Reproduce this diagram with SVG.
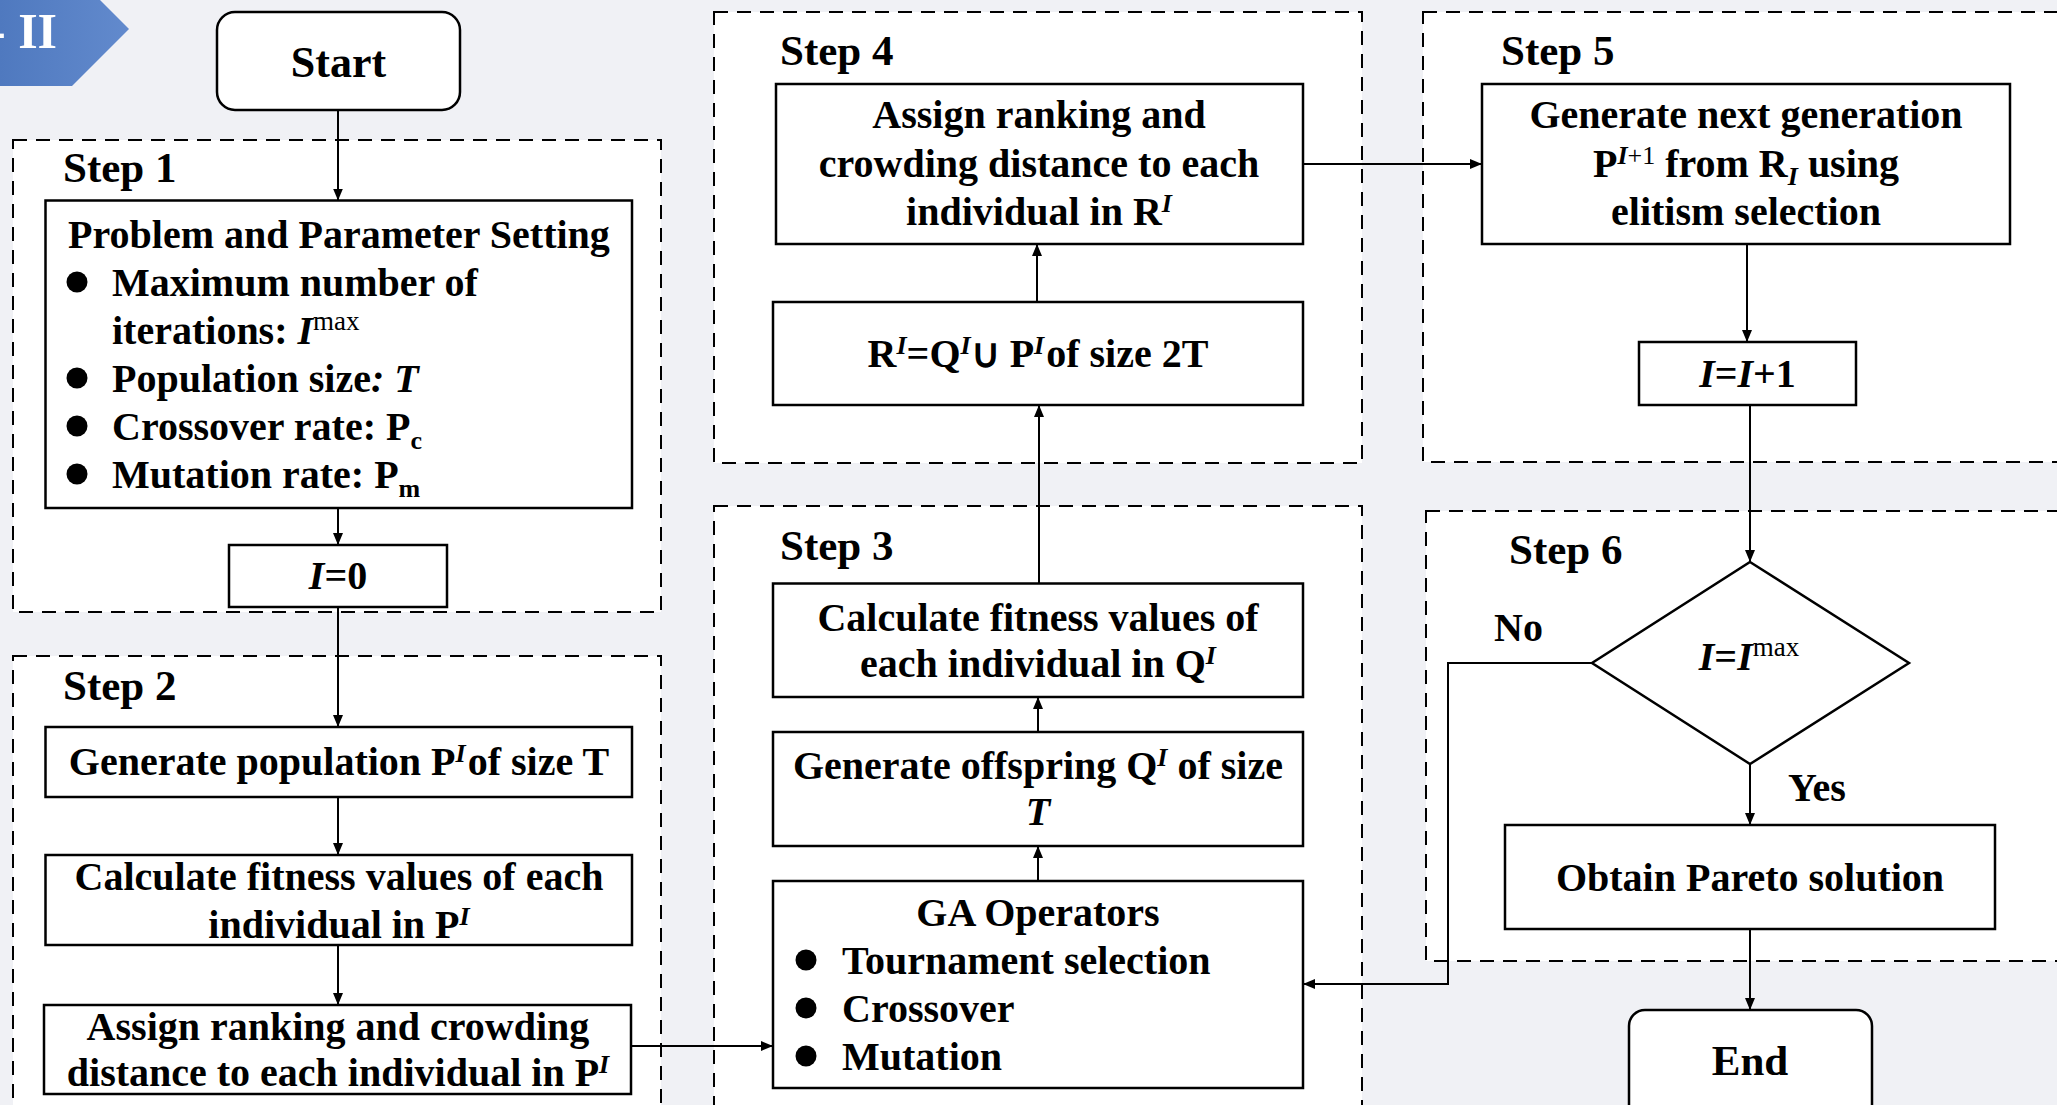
<svg xmlns="http://www.w3.org/2000/svg" width="2057" height="1105" viewBox="0 0 2057 1105">
<style>
.t{font-family:"Liberation Serif","Times New Roman",serif;font-weight:bold;font-size:40px;fill:#000}
.c{text-anchor:middle}
.st{font-size:43px}
.i{font-style:italic}
.sup{font-size:26px;font-style:italic}
.sub{font-size:26px}
.mx{font-size:27px;font-weight:normal}
.box{fill:#fff;stroke:#000;stroke-width:2.5}
.dash{fill:#fff;stroke:#000;stroke-width:2;stroke-dasharray:14 9}
.ln{fill:none;stroke:#000;stroke-width:2}
</style>
<defs>
<linearGradient id="bg1" x1="0" y1="0" x2="1" y2="0">
<stop offset="0" stop-color="#4f79bf"/>
<stop offset="1" stop-color="#628acd"/>
</linearGradient>
<marker id="ah" markerWidth="12" markerHeight="10" refX="12" refY="5" orient="auto" markerUnits="userSpaceOnUse">
<path d="M0,0 L12,5 L0,10 z" fill="#000"/>
</marker>
</defs>
<rect x="0" y="0" width="2057" height="1105" fill="#f0f1f5"/>
<g id="banner">
<polygon points="0,-28 72,-28 129,29 72,86 0,86" fill="url(#bg1)"/>
<text class="t" x="-11" y="48" style="font-size:50px;fill:#fff">- II</text>
</g>
<g id="step-regions">
<rect class="dash" x="13" y="140" width="648" height="472"/>
<rect class="dash" x="13" y="656" width="648" height="470"/>
<rect class="dash" x="714" y="12" width="648" height="451"/>
<rect class="dash" x="714" y="506" width="648" height="620"/>
<rect class="dash" x="1423" y="12" width="660" height="450"/>
<rect class="dash" x="1426" y="511" width="660" height="450"/>
<text class="t st" x="63" y="182">Step 1</text>
<text class="t st" x="63" y="700">Step 2</text>
<text class="t st" x="780" y="560">Step 3</text>
<text class="t st" x="780" y="65">Step 4</text>
<text class="t st" x="1501" y="65">Step 5</text>
<text class="t st" x="1509" y="564">Step 6</text>
</g>
<g id="start">
<rect class="box" x="217" y="12" width="243" height="98" rx="18"/>
<text class="t c" x="338.5" y="77" style="font-size:44px">Start</text>
</g>
<g id="problem">
<rect class="box" x="45.5" y="200.5" width="586.5" height="307.5"/>
<text class="t c" x="339" y="248">Problem and Parameter Setting</text>
<circle cx="77" cy="282" r="10.5"/>
<text class="t" x="112" y="296">Maximum number of</text>
<text class="t" x="112" y="344">iterations: <tspan class="i">I</tspan><tspan class="mx" dy="-14">max</tspan></text>
<circle cx="77" cy="378" r="10.5"/>
<text class="t" x="112" y="392">Population size<tspan class="i">: T</tspan></text>
<circle cx="77" cy="426" r="10.5"/>
<text class="t" x="112" y="440">Crossover rate: P<tspan class="sub" dy="9">c</tspan></text>
<circle cx="77" cy="474" r="10.5"/>
<text class="t" x="112" y="488">Mutation rate: P<tspan class="sub" dy="9">m</tspan></text>
</g>
<g id="i0">
<rect class="box" x="229" y="545" width="218" height="62"/>
<text class="t c" x="338" y="589"><tspan class="i">I</tspan>=0</text>
</g>
<g id="genpop">
<rect class="box" x="45.5" y="727" width="586.5" height="70"/>
<text class="t c" x="339" y="775">Generate population P<tspan class="sup" dy="-13">I</tspan><tspan dx="2" dy="13">of size T</tspan></text>
</g>
<g id="calcP">
<rect class="box" x="45.5" y="855" width="586.5" height="90"/>
<text class="t c" x="339" y="890">Calculate fitness values of each</text>
<text class="t c" x="339" y="938">individual in P<tspan class="sup" dy="-13">I</tspan></text>
</g>
<g id="assignP">
<rect class="box" x="44" y="1005" width="587" height="89"/>
<text class="t c" x="338" y="1040">Assign ranking and crowding</text>
<text class="t c" x="338" y="1086">distance to each individual in P<tspan class="sup" dy="-13">I</tspan></text>
</g>
<g id="calcQ">
<rect class="box" x="773" y="583.5" width="530" height="113.5"/>
<text class="t c" x="1038" y="631">Calculate fitness values of</text>
<text class="t c" x="1038" y="677">each individual in Q<tspan class="sup" dy="-13">I</tspan></text>
</g>
<g id="offspring">
<rect class="box" x="773" y="732" width="530" height="114"/>
<text class="t c" x="1038" y="779">Generate offspring Q<tspan class="sup" dy="-13">I</tspan><tspan dy="13"> of size</tspan></text>
<text class="t c i" x="1038" y="825">T</text>
</g>
<g id="gaops">
<rect class="box" x="773" y="881" width="530" height="207"/>
<text class="t c" x="1038" y="926">GA Operators</text>
<circle cx="806" cy="960" r="10.5"/>
<text class="t" x="842" y="974">Tournament selection</text>
<circle cx="806" cy="1008" r="10.5"/>
<text class="t" x="842" y="1022">Crossover</text>
<circle cx="806" cy="1056" r="10.5"/>
<text class="t" x="842" y="1070">Mutation</text>
</g>
<g id="assignR">
<rect class="box" x="776" y="84" width="527" height="160"/>
<text class="t c" x="1039" y="128">Assign ranking and</text>
<text class="t c" x="1039" y="177">crowding distance to each</text>
<text class="t c" x="1039" y="225">individual in R<tspan class="sup" dy="-13">I</tspan></text>
</g>
<g id="union">
<rect class="box" x="773" y="302" width="530" height="103"/>
<text class="t c" x="1038" y="367">R<tspan class="sup" dy="-13">I</tspan><tspan dy="13">=Q</tspan><tspan class="sup" dy="-13">I</tspan><tspan dy="13">∪ P</tspan><tspan class="sup" dy="-13">I</tspan><tspan dx="2" dy="13">of size 2T</tspan></text>
</g>
<g id="nextgen">
<rect class="box" x="1482" y="84" width="528" height="160"/>
<text class="t c" x="1746" y="128">Generate next generation</text>
<text class="t c" x="1746" y="177">P<tspan class="sup" dy="-13">I</tspan><tspan class="sub" style="font-weight:normal">+1</tspan><tspan dy="13"> from R</tspan><tspan class="sup" dy="8">I</tspan><tspan dy="-8"> using</tspan></text>
<text class="t c" x="1746" y="225">elitism selection</text>
</g>
<g id="incr">
<rect class="box" x="1639" y="342" width="217" height="63"/>
<text class="t c" x="1747.5" y="387"><tspan class="i">I</tspan>=<tspan class="i">I</tspan>+1</text>
</g>
<g id="decision">
<polygon class="box" points="1750,562 1909,663 1750,764 1592,663"/>
<text class="t c" x="1749" y="670"><tspan class="i">I</tspan>=<tspan class="i">I</tspan><tspan class="mx" dy="-14">max</tspan></text>
</g>
<g id="pareto">
<rect class="box" x="1505" y="825" width="490" height="104"/>
<text class="t c" x="1750" y="891">Obtain Pareto solution</text>
</g>
<g id="end">
<rect class="box" x="1629" y="1010" width="243" height="120" rx="16"/>
<text class="t c" x="1750" y="1075" style="font-size:43px">End</text>
</g>
<g id="connectors">
<line class="ln" x1="338" y1="110" x2="338" y2="200.5" marker-end="url(#ah)"/>
<line class="ln" x1="338" y1="508" x2="338" y2="545" marker-end="url(#ah)"/>
<line class="ln" x1="338" y1="607" x2="338" y2="727" marker-end="url(#ah)"/>
<line class="ln" x1="338" y1="797" x2="338" y2="855" marker-end="url(#ah)"/>
<line class="ln" x1="338" y1="945" x2="338" y2="1005" marker-end="url(#ah)"/>
<line class="ln" x1="631" y1="1046" x2="773" y2="1046" marker-end="url(#ah)"/>
<line class="ln" x1="1038" y1="881" x2="1038" y2="846" marker-end="url(#ah)"/>
<line class="ln" x1="1038" y1="732" x2="1038" y2="697" marker-end="url(#ah)"/>
<line class="ln" x1="1039" y1="583.5" x2="1039" y2="405" marker-end="url(#ah)"/>
<line class="ln" x1="1037" y1="302" x2="1037" y2="244" marker-end="url(#ah)"/>
<line class="ln" x1="1303" y1="164" x2="1482" y2="164" marker-end="url(#ah)"/>
<line class="ln" x1="1747" y1="244" x2="1747" y2="342" marker-end="url(#ah)"/>
<line class="ln" x1="1750" y1="405" x2="1750" y2="562" marker-end="url(#ah)"/>
<line class="ln" x1="1750" y1="764" x2="1750" y2="825" marker-end="url(#ah)"/>
<line class="ln" x1="1750" y1="929" x2="1750" y2="1010" marker-end="url(#ah)"/>
<polyline class="ln" points="1592,663 1448,663 1448,984 1303,984" marker-end="url(#ah)"/>
<text class="t" x="1494" y="641">No</text>
<text class="t" x="1788" y="801">Yes</text>
</g>
</svg>
